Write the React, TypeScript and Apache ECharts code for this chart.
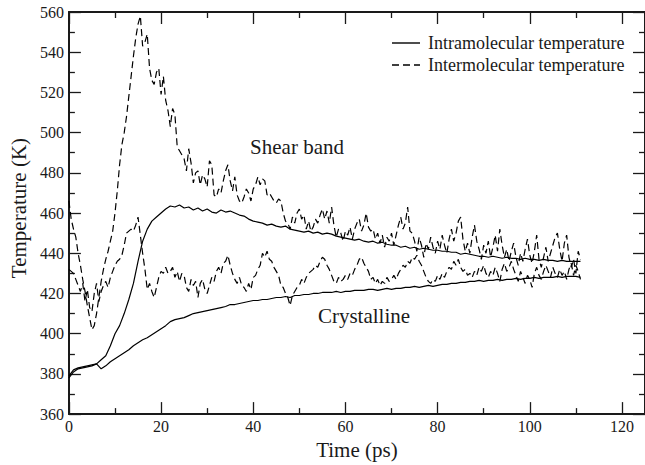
import React, { useEffect, useRef } from "react";
import * as echarts from "echarts";

// Axis settings
const X_TICKS = [0, 20, 40, 60, 80, 100, 120];
const Y_TICKS = [360, 380, 400, 420, 440, 460, 480, 500, 520, 540, 560];

// time step of the sampled series (ps)
const INTRA_STEP = 1;
const INTER_STEP = 0.5;

// Shear band, intramolecular temperature (K), every 1 ps from 0
const shearIntra = [
  379, 382, 383, 383.5, 384, 384.5, 385, 387, 389, 394,
  400, 404, 410, 417, 425, 436, 446, 452, 456, 458,
  460, 462, 463.5, 463, 464, 462.5, 463, 461.5, 462.5, 461,
  462, 460.5, 460, 461.5, 460.5, 461, 460, 459, 458.5, 457,
  456, 455.5, 455, 454, 454.5, 453.5, 453, 453.5, 452, 451.5,
  451, 450.5, 451, 450, 450.5, 449.5, 450, 449.5, 448.5, 448,
  447.5, 447, 446.5, 447, 446, 445.5, 446, 445, 445.5, 444.5,
  444, 444, 443, 443.5, 442.5, 443, 442, 442.5, 442, 441.5,
  441.5, 441, 441, 440.5, 440.5, 439.5, 440, 439.5, 439, 438.5,
  438.5, 438, 438.5, 438, 437.5, 438, 437.5, 437.5, 437, 437.5,
  437, 437, 436.5, 437, 436.5, 436.5, 436, 436.5, 436, 436,
  436, 436,
];

// Crystalline, intramolecular temperature (K), every 1 ps from 0
const crystIntra = [
  378, 381, 382.5, 383, 383.5, 384, 385, 382.5, 384, 386,
  387.5, 389, 390.5, 392, 394, 395.5, 397, 398, 399.5, 401,
  402.5, 404, 406, 407, 407.5, 408, 409, 410, 410.5, 411,
  411.5, 412, 412.5, 413, 413.5, 414.5, 414.5, 415, 415.5, 416,
  416.5, 416.5, 417, 417, 417.5, 418, 418, 418.5, 418, 419,
  419, 419.5, 419.5, 420, 420, 420.5, 420.5, 420.5, 421, 420.5,
  421, 421, 421.5, 421.5, 421.5, 422, 422, 421.5, 422, 422.5,
  422, 422.5, 422.5, 423, 423, 423.5, 423, 423.5, 424, 423.5,
  424, 424.5, 424.5, 425, 425, 425.5, 425.5, 426, 426, 426.5,
  426, 426.5, 426.5, 427, 426.5, 427, 427, 427.5, 427, 427.5,
  427.5, 428, 427.5, 428, 428, 428, 428.5, 428, 428.5, 428.5,
  428.5, 428,
];

// Shear band, intermolecular temperature (K), every 0.5 ps from 0
const shearInter = [
  466, 457, 452, 448, 440, 434, 427, 421, 414, 408, 402, 404, 410, 418, 426, 432, 437, 441, 446, 451,
  460, 471, 484, 494, 500, 508, 518, 528, 538, 547, 554, 558, 543, 545, 549, 532, 526, 524, 530, 532,
  519, 528, 516, 511, 503, 512, 509, 493, 491, 489, 487, 481, 492, 485, 475, 480, 481, 474, 479, 477,
  473, 486, 484, 469, 468, 472, 470, 476, 481, 484, 476, 471, 478, 469, 466, 465, 468, 472, 470, 466,
  472, 474, 478, 474, 477, 476, 469, 470, 468, 466, 465, 467, 466, 460, 456, 455, 452, 458, 455, 460,
  462, 457, 459, 452, 456, 451, 453, 457, 455, 459, 462, 457, 461, 455, 463, 454, 448, 452, 450, 446,
  451, 449, 453, 447, 452, 455, 457, 451, 454, 460, 453, 451, 452, 447, 450, 445, 449, 443, 448, 446,
  450, 444, 449, 454, 458, 452, 455, 463, 451, 450, 446, 441, 448, 444, 438, 445, 442, 448, 443, 440,
  446, 442, 449, 444, 440, 447, 452, 446, 450, 456, 458, 447, 441, 445, 440, 448, 454, 446, 442, 437,
  444, 440, 446, 438, 443, 449, 441, 452, 444, 438, 442, 436, 441, 445, 438, 434, 440, 436, 442, 447,
  439, 435, 441, 449, 437, 433, 438, 443, 436, 440, 444, 448, 450, 442, 436, 445, 449, 438, 433, 437,
  430, 441, 437,
];

// Crystalline, intermolecular temperature (K), every 0.5 ps from 0
const crystInter = [
  432, 431, 430, 427, 424, 421, 425, 416, 422, 413, 411, 420, 425, 416, 421, 424, 426, 423, 428, 431,
  434, 436, 437, 439, 444, 450, 451, 452, 451, 454, 458, 449, 440, 432, 422, 425, 421, 418, 423, 428,
  431, 430, 433, 430, 431, 433, 428, 431, 426, 430, 429, 423, 421, 427, 424, 426, 418, 425, 427, 422,
  420, 424, 428, 426, 431, 433, 430, 435, 436, 439, 434, 430, 427, 425, 428, 424, 423, 421, 425, 422,
  428, 429, 432, 434, 440, 438, 441, 437, 436, 433, 431, 429, 424, 423, 420, 418, 414, 419, 421, 423,
  424, 427, 425, 428, 430, 431, 432, 434, 433, 436, 438, 437, 434, 432, 429, 426, 425, 428, 426, 427,
  429, 427, 430, 429, 432, 434, 437, 438, 435, 433, 431, 427, 428, 425, 427, 424, 426, 425, 428, 426,
  427, 429, 427, 430, 432, 434, 433, 436, 435, 438, 437, 439, 436, 434, 431, 428, 426, 425, 427, 426,
  429, 427, 430, 428, 431, 433, 432, 436, 434, 437, 433, 431, 432, 429, 430, 428, 431, 429, 433, 431,
  434, 430, 428, 431, 429, 433, 430, 426, 432, 435, 431, 433, 436, 432, 429, 426, 431, 428, 425, 429,
  427, 423, 430, 433, 429, 427, 431, 434, 431, 428, 433, 430, 428, 432, 429, 431, 427, 432, 435, 429,
  434, 431, 427,
];

const LEGEND_INTRA = "Intramolecular temperature";
const LEGEND_INTER = "Intermolecular temperature";
const ANNOT_SHEAR = "Shear band";
const ANNOT_CRYST = "Crystalline";

const FONT = "'Liberation Serif', 'Times New Roman', Times, serif";
const INK = "#1a1a1a";
const DASH = [7, 4];

function pairs(values: number[], step: number) {
  return values.map((v, i) => [i * step, v]);
}

export default function App() {
  const ref = useRef<HTMLDivElement>(null);
  useEffect(() => {
    if (!ref.current) return;
    const chart = echarts.init(ref.current, undefined, { renderer: "svg" });
    const xMin = X_TICKS[0];
    const xInt = X_TICKS[1] - X_TICKS[0];
    const yMin = Y_TICKS[0];
    const yMax = Y_TICKS[Y_TICKS.length - 1];
    const yInt = Y_TICKS[1] - Y_TICKS[0];
    const xMax = 125;
    const axisLine = { show: true, onZero: false, lineStyle: { color: INK, width: 2 } };
    const tick = { show: true, inside: true, length: 12, lineStyle: { color: INK, width: 1.3 } };
    const minor = { show: true, splitNumber: 2, length: 6, lineStyle: { color: INK, width: 1.3 } };
    const label = { fontFamily: FONT, fontSize: 16, color: INK };
    const solid = { color: "#000", width: 1.2, type: "solid" as const };
    const dashed = { color: "#000", width: 1.2, type: DASH as any };
    const lineSeries = (name: string, values: number[], step: number, ls: any) => ({
      name,
      type: "line",
      data: pairs(values, step),
      showSymbol: false,
      symbol: "none",
      lineStyle: ls,
      itemStyle: { color: "#000" },
    });
    const textEl = (text: string, x: number, y: number, size: number, align: string) => ({
      type: "text",
      x,
      y,
      style: { text, fontFamily: FONT, fontSize: size, fill: INK, align, verticalAlign: "middle" },
    });
    const option: any = {
      animation: false,
      backgroundColor: "#fff",
      grid: { left: 64, right: -4, top: 12, bottom: 44, containLabel: false },
      xAxis: [
        {
          type: "value",
          min: xMin,
          max: xMax,
          interval: xInt,
          position: "bottom",
          name: "Time (ps)",
          nameLocation: "middle",
          nameGap: 20,
          nameTextStyle: { fontFamily: FONT, fontSize: 21, color: INK },
          axisLine,
          axisTick: tick,
          minorTick: minor,
          splitLine: { show: false },
          axisLabel: { ...label, margin: 4, showMaxLabel: false },
        },
        {
          type: "value",
          min: xMin,
          max: xMax,
          interval: xInt,
          position: "top",
          axisLine,
          axisTick: tick,
          minorTick: minor,
          splitLine: { show: false },
          axisLabel: { show: false },
        },
      ],
      yAxis: [
        {
          type: "value",
          min: yMin,
          max: yMax,
          interval: yInt,
          position: "left",
          name: "Temperature (K)",
          nameLocation: "middle",
          nameGap: 35,
          nameTextStyle: { fontFamily: FONT, fontSize: 21, color: INK, padding: [0, 0, 0, 10] },
          axisLine,
          axisTick: tick,
          minorTick: minor,
          splitLine: { show: false },
          axisLabel: { ...label, margin: 5 },
        },
        {
          type: "value",
          min: yMin,
          max: yMax,
          interval: yInt,
          position: "right",
          axisLine,
          axisTick: tick,
          minorTick: minor,
          splitLine: { show: false },
          axisLabel: { show: false },
        },
      ],
      series: [
        lineSeries(LEGEND_INTRA, shearIntra, INTRA_STEP, solid),
        lineSeries(LEGEND_INTER, shearInter, INTER_STEP, dashed),
        lineSeries(LEGEND_INTRA, crystIntra, INTRA_STEP, solid),
        lineSeries(LEGEND_INTER, crystInter, INTER_STEP, dashed),
      ],
      graphic: [
        {
          type: "line",
          shape: { x1: 392, y1: 43, x2: 420, y2: 43 },
          style: { stroke: "#000", lineWidth: 1.4 },
        },
        {
          type: "line",
          shape: { x1: 392, y1: 65, x2: 420, y2: 65 },
          style: { stroke: "#000", lineWidth: 1.4, lineDash: DASH },
        },
        textEl(LEGEND_INTRA, 428, 43, 18, "left"),
        textEl(LEGEND_INTER, 428, 65, 18, "left"),
        textEl(ANNOT_SHEAR, 297, 147, 21, "center"),
        textEl(ANNOT_CRYST, 364, 316, 21, "center"),
      ],
    };
    chart.setOption(option);
    return () => chart.dispose();
  }, []);
  return <div ref={ref} style={{ width: 645, height: 465, position: "absolute", left: 0, top: 0 }} />;
}
